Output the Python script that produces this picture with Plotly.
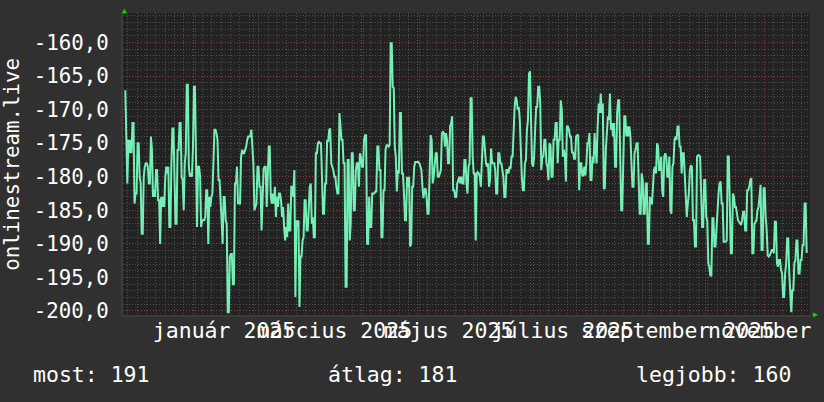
import pandas as pd
import plotly.graph_objects as go

# daily values, split by region of the chart
part1 = [-167.1, -175.0, -181.0, -174.5, -176.5, -174.5, -176.5, -172.0, -172.0, -184.0, -182.5, -182.5, -175.0, -175.0,
         -180.0, -181.0, -188.5, -188.5, -180.0, -178.5, -178.0, -178.0, -178.5, -181.0, -181.0, -174.0, -176.0, -183.0,
         -182.0, -183.0, -179.0, -179.0, -183.5, -183.5, -190.0, -183.0, -184.5, -183.0, -184.5, -180.0, -178.5, -179.5,
         -178.5, -187.5, -187.5, -178.0, -172.8, -172.8, -182.0, -187.0, -187.0, -176.0, -176.0, -172.0, -172.0, -180.0,
         -180.5, -185.0, -178.0, -176.5, -166.3, -166.3, -178.5, -180.0, -179.5, -180.0, -176.0, -166.6, -166.6, -178.5,
         -187.5, -178.5, -178.5, -180.0, -187.5, -186.5, -186.5, -186.5, -186.0, -182.0, -182.0, -190.0, -183.0, -184.5,
         -183.0, -182.5, -178.0, -173.0, -173.0, -173.5, -174.5, -180.5, -180.5, -183.0, -186.5, -190.0, -183.0, -183.0,
         -186.5, -187.0, -200.2, -200.2, -192.0, -191.5, -191.5, -196.0, -196.0, -181.0, -181.0, -178.5, -184.0, -184.0,
         -184.0, -177.0, -176.0, -176.5, -176.5, -176.0, -175.5, -174.5, -174.0, -174.0]
part2 = [-174.0, -173.0, -175.5, -178.0, -185.0, -184.5, -184.0, -178.5, -178.5, -181.5, -181.5, -188.0, -184.0, -178.8,
         -178.5, -178.5, -184.5, -179.0, -175.5, -175.5, -183.0, -184.0, -182.5, -184.0, -181.5, -186.0, -183.0, -184.5,
         -182.5, -182.5, -183.5, -186.0, -184.5, -187.5, -189.5, -187.5, -189.0, -184.0, -188.0, -188.0, -181.5, -181.5,
         -183.0, -179.0, -197.9, -186.5, -187.5, -186.5, -199.4, -191.9, -191.9, -189.5, -189.0, -183.5, -183.5, -188.0,
         -188.0, -185.0, -181.5, -181.0, -187.0, -186.0, -189.0, -189.0, -176.5, -176.5, -175.0, -174.8, -175.0, -175.0,
         -179.0, -185.5, -185.5, -181.0, -181.0, -174.5, -174.8, -173.0, -172.8, -178.0, -178.5, -179.0, -180.0, -180.0,
         -181.5, -182.5, -182.5, -170.5, -172.5, -174.5, -174.5, -178.0, -178.0, -196.4, -196.4, -177.5, -177.5, -189.5,
         -187.0, -176.5, -176.5, -185.0, -185.0, -179.0, -178.0, -178.0, -181.5, -176.5, -177.0, -178.5, -178.5, -174.5,
         -173.8, -173.8, -190.0, -190.0, -183.0, -187.5, -187.5, -182.5, -182.5, -182.5, -182.2, -182.2, -175.5, -175.5,
         -179.0, -179.0, -189.0, -189.0, -182.0, -182.0, -176.0, -175.3, -175.3, -175.5, -175.3]
part3 = [-160.1, -160.1, -166.6, -166.8, -175.5, -177.0, -182.2, -179.0, -179.5, -170.5, -170.5, -179.5, -179.5, -182.5,
         -186.5, -186.5, -180.0, -181.5, -180.0, -190.4, -190.0, -181.5, -181.5, -178.5, -177.8, -177.8, -177.8, -177.8,
         -178.0, -178.5, -179.0, -181.5, -183.2, -182.0, -181.7, -183.0, -185.5, -185.5, -180.5, -173.8, -174.5, -181.0,
         -180.0, -177.5, -176.5, -176.5, -180.0, -180.0, -179.5, -179.0, -173.5, -173.3, -173.5, -175.5, -173.5, -174.5,
         -178.0, -178.0, -172.5, -172.0, -171.0, -182.0, -182.0, -183.0, -183.0, -181.0, -180.5, -180.0, -181.0, -180.0,
         -181.0, -181.0, -177.5, -177.5, -181.0, -182.5, -178.5, -178.0, -168.3, -168.3, -177.0, -179.5, -179.5, -189.5,
         -179.5, -179.3, -179.5, -180.0, -181.5, -176.5, -174.0, -174.0, -176.0, -178.0, -178.5, -178.0, -181.5, -180.5,
         -175.8, -178.0, -178.0, -178.0, -179.0, -182.5, -182.5, -176.5, -176.5, -178.0, -178.0, -179.5, -180.0, -183.0,
         -183.0, -179.0, -179.0, -179.5, -178.5, -178.8, -177.0, -177.0, -172.5, -169.6, -168.1, -168.6, -170.0, -169.6,
         -171.5, -176.5, -180.0, -182.0, -182.0, -178.0, -177.5, -173.0, -171.5, -164.6, -164.3, -171.5]
part4 = [-178.0, -178.5, -177.0, -173.0, -169.6, -169.6, -166.6, -166.6, -169.1, -179.0, -177.0, -177.0, -174.5, -174.5,
         -178.0, -178.5, -180.5, -175.0, -175.3, -180.0, -180.0, -174.5, -174.5, -172.0, -172.0, -178.0, -174.5, -174.5,
         -168.6, -170.0, -177.0, -176.0, -177.0, -180.7, -172.5, -172.5, -173.0, -174.0, -174.0, -176.5, -176.3, -177.3,
         -177.3, -174.0, -173.8, -173.8, -182.0, -178.0, -178.0, -179.8, -179.8, -178.5, -179.8, -178.0, -175.0, -175.0,
         -173.5, -180.5, -180.5, -177.0, -178.0, -173.5, -177.0, -178.0, -172.5, -169.1, -170.5, -167.6, -170.5, -169.1,
         -181.7, -181.7, -176.0, -173.0, -171.0, -171.5, -167.6, -173.0, -172.0, -174.0, -172.0, -178.5, -178.5, -170.5,
         -168.6, -168.6, -178.5, -185.0, -185.0, -177.5, -171.0, -171.0, -174.0, -172.5, -174.0, -172.5, -174.0, -178.0,
         -181.5, -181.5, -176.5, -176.0, -175.0, -175.0, -181.5, -185.5, -185.5, -179.5, -180.5, -185.5, -185.5, -181.0,
         -181.0, -190.0, -190.0, -183.0, -184.0, -184.0, -181.5, -179.0, -178.5, -179.5, -175.0, -175.5, -179.0, -179.0,
         -177.0, -182.0, -183.0, -177.0, -176.5, -177.0, -180.0, -180.0, -177.0, -185.0, -185.5]
part5 = [-178.5, -178.0, -174.5, -174.0, -174.5, -172.5, -172.5, -175.5, -175.5, -179.5, -176.5, -176.5, -179.5, -181.5,
         -186.0, -184.0, -182.5, -179.0, -178.3, -178.5, -186.5, -186.5, -190.4, -190.4, -177.0, -176.8, -176.8, -177.0,
         -181.5, -187.5, -187.5, -180.5, -180.5, -186.0, -186.5, -192.9, -193.4, -194.7, -194.7, -186.2, -186.2, -190.4,
         -190.4, -187.5, -184.0, -182.5, -181.0, -180.7, -184.0, -184.0, -189.7, -189.7, -189.7, -189.5, -177.0, -177.0,
         -183.0, -191.4, -191.4, -182.5, -183.0, -184.5, -184.5, -186.0, -186.5, -186.7, -187.0, -187.2, -186.5, -185.2,
         -185.2, -188.0, -188.0, -182.0, -182.0, -181.5, -180.5, -180.2, -191.4, -191.4, -187.0, -186.7, -186.5, -185.0,
         -184.5, -183.0, -181.2, -190.9, -190.9, -181.7, -181.7, -186.0, -188.0, -191.7, -191.9, -191.7, -191.4, -190.9,
         -190.9, -191.4, -186.7, -186.7, -192.9, -193.4, -192.4, -192.4, -193.9, -194.4, -197.9, -197.9, -194.4, -192.9,
         -189.2, -189.2, -194.4, -196.9, -200.2, -196.9, -196.9, -192.9, -192.4, -189.5, -189.5, -194.4, -194.4, -192.4,
         -192.4, -190.2, -190.2, -184.0, -184.0, -191.2, -191.2]

values = part1 + part2 + part3 + part4 + part5
data_start = "2024-11-24 18:00"
data_end = "2025-11-24 08:00"

y_ticks = [-200, -195, -190, -185, -180, -175, -170, -165, -160]
month_labels = ["január 2025", "március 2025", "május 2025", "július 2025", "szeptember 2025", "november 2025"]
month_label_dates = ["2025-01-16 12:00", "2025-03-16 12:00", "2025-05-16 12:00",
                     "2025-07-16 12:00", "2025-09-16 00:00", "2025-11-16 00:00"]
stats = [("most", 191), ("átlag", 181), ("legjobb", 160)]

times = pd.date_range(data_start, data_end, periods=len(values))

FONT = "DejaVu Sans Mono"
FS = 21.5
W, H = 824, 402
L, R, T, B = 123, 810, 13, 315.5
x_range = ["2024-11-23 12:30", "2025-11-25 13:40"]
y_range = [-200.6, -155.6]

def px_x(p):
    return (p - L) / (R - L)

def px_y(p):
    return (B - p) / (B - T)

fig = go.Figure()
fig.add_trace(go.Scatter(x=times, y=values, mode="lines",
                         line=dict(color="#74f0b6", width=2), hoverinfo="skip"))
# empty trace so the label axis gets drawn
fig.add_trace(go.Scatter(x=month_label_dates, y=[None] * len(month_label_dates),
                         xaxis="x2", mode="lines", hoverinfo="skip"))

red = "rgba(150,60,60,0.85)"
gray = "rgba(110,110,110,0.6)"

fig.update_layout(
    width=W, height=H,
    margin=dict(l=L, r=W - R, t=T, b=H - B),
    paper_bgcolor="#303030",
    plot_bgcolor="#222222",
    showlegend=False,
    font=dict(family=FONT, size=FS, color="#ffffff"),
    xaxis=dict(
        type="date", range=x_range, showticklabels=False, ticks="", automargin=False,
        tick0="2024-12-01", dtick="M1",
        showgrid=True, gridcolor=red, griddash="1px,2px", gridwidth=1,
        minor=dict(dtick=5 * 86400000, tick0="2024-11-26", showgrid=True,
                   gridcolor=gray, griddash="1px,2px", gridwidth=1),
        zeroline=False, showline=True, linecolor="#3c3c3c", linewidth=2,
    ),
    xaxis2=dict(
        type="date", range=x_range, overlaying="x", anchor="y", side="bottom",
        tickvals=month_label_dates, ticktext=month_labels, tickangle=0, automargin=False,
        ticks="", showgrid=False, zeroline=False, ticklabeloverflow="allow",
        tickfont=dict(family=FONT, size=FS, color="#ffffff"),
    ),
    yaxis=dict(
        range=y_range, tickvals=y_ticks, automargin=False,
        ticktext=[f"{v:.1f}".replace(".", ",") for v in y_ticks],
        ticks="", ticklabelstandoff=8,
        showgrid=True, gridcolor=red, griddash="1px,2px", gridwidth=1,
        minor=dict(dtick=1, tick0=0, showgrid=True, gridcolor=gray,
                   griddash="1px,2px", gridwidth=1),
        zeroline=False, showline=True, linecolor="#3c3c3c", linewidth=2,
        tickfont=dict(family=FONT, size=20.8, color="#ffffff"),
    ),
)

# y axis title, rotated
fig.add_annotation(text="onlinestream.live", xref="paper", yref="paper",
                   x=px_x(12), y=px_y(165), textangle=-90, showarrow=False,
                   xanchor="center", yanchor="middle",
                   font=dict(family=FONT, size=20.8, color="#ffffff"))

# summary line under the chart
for (name, val), xpos in zip(stats, [31, 326, 634]):
    fig.add_annotation(text=f"{name}: {val}", xref="paper", yref="paper",
                       x=px_x(xpos), y=px_y(375), xanchor="left", yanchor="middle",
                       showarrow=False, font=dict(family=FONT, size=FS, color="#ffffff"))

# green axis arrows
fig.add_annotation(text="▲", xref="paper", yref="paper", x=px_x(124), y=px_y(10),
                   xanchor="center", yanchor="middle",
                   showarrow=False, font=dict(size=8, color="#00dd00"))
fig.add_annotation(text="▶", xref="paper", yref="paper", x=px_x(815), y=px_y(315),
                   xanchor="center", yanchor="middle",
                   showarrow=False, font=dict(size=8, color="#00dd00"))

# the page body has a default margin; drop it so the chart sits at the corner
fig.write_html("out.html", config={"displayModeBar": False},
               post_script="document.body.style.margin='0';")
